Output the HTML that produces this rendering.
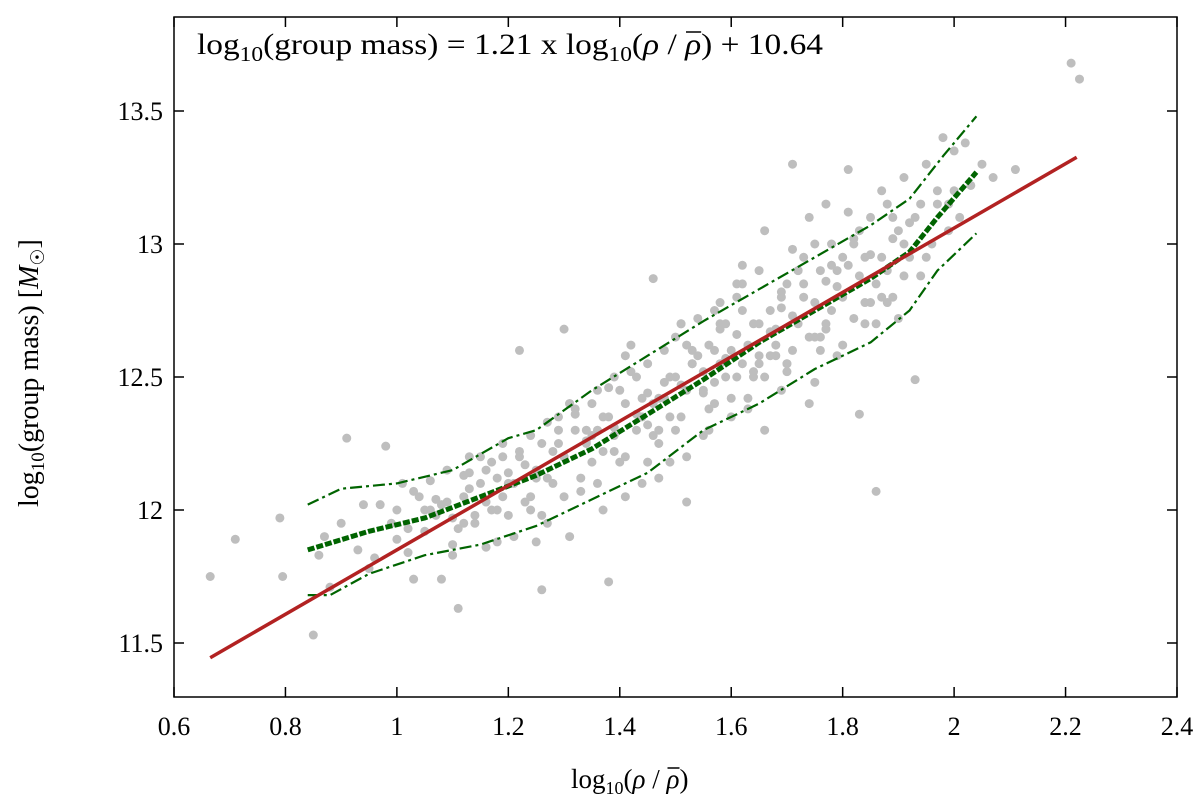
<!DOCTYPE html>
<html><head><meta charset="utf-8">
<style>
html,body{margin:0;padding:0;background:#fff;}
svg{display:block;}
.tick{font-family:"Liberation Serif",serif;font-size:26px;fill:#000;}
</style></head>
<body>
<svg id="chart" width="1200" height="808" xmlns="http://www.w3.org/2000/svg">
<g id="points"></g>
<g id="lines"></g>
<rect x="174" y="17" width="1003" height="680" fill="none" stroke="#000" stroke-width="1.5"/>
<g id="ticks"></g>
<text id="ftitle" x="197" y="54" font-family="Liberation Serif,serif" font-size="30" textLength="626" lengthAdjust="spacingAndGlyphs">log<tspan font-size="21" dy="7">10</tspan><tspan dy="-7">(group mass) = 1.21 x log</tspan><tspan font-size="21" dy="7">10</tspan><tspan dy="-7">(</tspan><tspan font-style="italic">ρ</tspan> / <tspan id="rb1" font-style="italic">ρ</tspan>) + 10.64</text>
<line id="bar1" x1="0" y1="25" x2="0" y2="25" stroke="#000" stroke-width="1.5"/>
<text x="571" y="788" font-family="Liberation Serif,serif" font-size="27">log<tspan font-size="18" dy="6">10</tspan><tspan dy="-6">(</tspan><tspan font-style="italic">ρ</tspan> / <tspan id="rb2" font-style="italic">ρ</tspan>)</text>
<line id="bar2" x1="0" y1="760" x2="0" y2="760" stroke="#000" stroke-width="1.5"/>
<text transform="translate(38,507) rotate(-90)" font-family="Liberation Serif,serif" font-size="28">log<tspan font-size="19" dy="6">10</tspan><tspan dy="-6">(group mass) [</tspan><tspan font-style="italic">M</tspan><tspan font-size="19" dy="6">☉</tspan><tspan dy="-6">]</tspan></text>
</svg>
<script>
const xTicks=[0.6,0.8,1,1.2,1.4,1.6,1.8,2,2.2,2.4];
const yTicks=[11.5,12,12.5,13,13.5];
const fitSlope=1.21, fitIntercept=10.64, fitX=[0.665,2.22];
const medX=[0.84,0.95,1.05,1.15,1.25,1.35,1.45,1.55,1.65,1.75,1.85,1.92,1.97,2.04];
const medY=[11.85,11.92,11.97,12.05,12.13,12.23,12.36,12.49,12.63,12.75,12.87,12.97,13.1,13.27];
const upX=[0.84,0.9,1.0,1.1,1.2,1.25,1.35,1.45,1.55,1.65,1.75,1.85,1.92,1.98,2.04];
const upY=[12.02,12.08,12.1,12.15,12.27,12.3,12.45,12.58,12.71,12.83,12.95,13.07,13.17,13.33,13.48];
const loX=[0.84,0.88,0.95,1.05,1.15,1.25,1.35,1.45,1.55,1.65,1.75,1.85,1.92,1.97,2.04];
const loY=[11.68,11.68,11.76,11.83,11.87,11.94,12.04,12.14,12.3,12.4,12.53,12.63,12.75,12.9,13.04];
const ptX=[0.665,0.71,0.79,0.795,0.85,0.86,0.87,0.88,0.9,0.91,0.93,0.95,0.97,0.98,0.99,1.0,1.01,1.02,1.03,1.04,1.05,1.06,1.07,1.08,1.09,1.1,1.11,1.12,1.13,1.14,1.15,1.16,1.17,1.18,1.19,1.2,1.21,1.22,1.22,1.23,1.24,1.25,1.26,1.26,1.27,1.28,1.29,1.3,1.3,1.31,1.32,1.33,1.34,1.35,1.36,1.37,1.38,1.38,1.39,1.4,1.41,1.42,1.43,1.44,1.45,1.46,1.46,1.47,1.48,1.49,1.5,1.5,1.51,1.52,1.53,1.54,1.55,1.55,1.56,1.57,1.58,1.59,1.6,1.6,1.61,1.62,1.63,1.64,1.65,1.65,1.66,1.67,1.68,1.69,1.7,1.7,1.71,1.72,1.73,1.74,1.75,1.75,1.76,1.77,1.78,1.79,1.8,1.8,1.81,1.82,1.82,1.83,1.84,1.85,1.86,1.86,1.87,1.88,1.89,1.9,1.91,1.92,1.93,1.94,1.95,1.96,1.97,1.98,1.99,2.0,2.01,2.02,2.03,2.05,2.07,2.11,2.21,2.225,1.44,1.48,1.52,1.58,1.63,1.68,1.72,1.77,1.53,1.57,1.62,1.66,1.71,1.74,1.36,1.33,1.27,1.18,1.12,1.09,1.41,1.47,1.56,1.61,1.69,1.73,1.78,1.83,1.88,1.95,1.52,1.43,1.35,1.24,1.15,1.06,0.96,1.39,1.51,1.64,1.76,1.84,1.91,1.99,1.58,1.45,1.31,1.2,1.62,1.7,
1.02,1.05,1.08,1.1,1.13,1.16,1.18,1.21,1.23,1.25,1.28,1.3,1.32,1.34,1.37,1.39,1.41,1.43,1.45,1.47,1.49,1.51,1.53,1.55,1.57,1.59,1.61,1.63,1.65,1.67,1.69,1.71,1.73,1.75,1.77,1.79,1.81,1.83,1.85,1.87,1.89,1.91,1.93,1.12,1.17,1.22,1.27,1.32,1.37,1.42,1.47,1.52,1.57,1.62,1.67,1.72,1.77,1.82,1.87,1.92,1.14,1.19,1.24,1.29,1.34,1.39,1.44,1.49,1.54,1.59,1.64,1.69,1.74,1.79,1.84,1.89,1.94,1.11,1.16,1.26,1.31,1.36,1.41,1.46,1.51,1.56,1.61,1.66,1.71,1.76,1.81,1.86,1.97,2.0,1.9,1.8,1.7,1.6,1.5,1.4,1.3,1.2,1.1,1.0,0.94,1.25,1.35,1.45,1.55,1.65,1.75,1.85,1.03,1.07,1.13,1.19,1.29,1.38,1.48,1.58,1.68,1.78,1.88];
const ptY=[11.75,11.89,11.97,11.75,11.53,11.83,11.9,11.71,11.95,12.27,11.85,11.78,12.02,12.24,11.95,11.89,12.1,11.84,11.74,12.05,11.92,12.11,11.98,11.74,12.03,11.87,11.63,12.05,12.2,11.95,12.1,11.86,12.18,12.0,12.05,12.14,11.9,12.6,12.2,12.03,12.28,12.15,11.7,11.98,12.33,12.1,12.3,12.68,12.2,11.9,12.38,12.07,12.25,12.18,12.45,12.0,11.73,12.35,12.28,12.45,12.2,12.62,12.3,12.1,12.55,12.87,12.4,12.25,12.6,12.18,12.5,12.65,12.35,12.03,12.55,12.72,12.45,12.28,12.62,12.4,12.78,12.5,12.6,12.35,12.8,12.55,12.42,12.7,12.9,12.58,12.3,12.75,12.62,12.45,12.85,12.55,13.3,12.7,12.85,12.4,13.0,12.65,12.9,13.15,12.75,12.58,12.95,12.8,13.28,13.0,12.72,12.36,12.95,13.1,12.85,12.07,13.2,12.9,12.8,13.05,13.25,12.95,12.49,13.15,13.3,13.0,13.2,13.4,13.05,13.35,13.1,13.38,13.22,13.3,13.25,13.28,13.68,13.62,12.35,12.48,12.2,12.55,12.38,12.68,12.9,12.7,12.6,12.75,12.92,13.05,12.6,13.1,12.3,12.12,11.95,11.88,11.95,12.15,12.05,12.12,12.3,12.5,12.8,12.95,13.0,13.05,13.15,12.95,12.45,12.5,12.4,12.0,12.2,12.0,11.82,12.22,12.7,12.5,12.65,12.7,12.88,13.15,12.7,12.32,12.4,12.1,12.85,12.55,
11.93,12.0,12.02,11.97,12.08,12.03,12.12,12.1,12.17,12.12,12.22,12.2,12.3,12.26,12.35,12.31,12.4,12.36,12.44,12.42,12.5,12.47,12.55,12.52,12.6,12.57,12.66,12.62,12.7,12.67,12.76,12.73,12.8,12.78,12.86,12.84,12.92,12.88,12.96,12.95,13.02,13.0,13.1,12.13,12.0,12.22,12.12,12.36,12.22,12.52,12.3,12.62,12.48,12.75,12.58,12.9,12.68,13.02,12.8,13.08,11.98,12.2,12.05,12.25,12.3,12.5,12.42,12.35,12.58,12.7,12.52,12.82,12.65,12.9,12.78,13.1,12.88,11.93,12.15,12.25,12.4,12.1,12.58,12.28,12.7,12.38,12.85,12.5,12.98,12.6,13.12,12.7,13.15,13.2,12.72,12.62,12.52,12.42,12.3,12.18,12.05,11.98,11.83,12.0,12.02,11.88,12.28,12.18,12.44,12.55,12.48,12.78,12.07,12.04,12.14,12.25,12.35,12.46,12.42,12.68,12.58,12.92,12.78];
const X0=174,X1=1177,Y0=17,Y1=697;
const sx=v=>X0+(v-0.6)/(2.4-0.6)*(X1-X0);
const sy=v=>643-(v-11.5)*266;
const NS="http://www.w3.org/2000/svg";
const pts=document.getElementById('points');
ptX.forEach((x,i)=>{const c=document.createElementNS(NS,'circle');
c.setAttribute('cx',sx(x));c.setAttribute('cy',sy(ptY[i]));c.setAttribute('r',4.5);c.setAttribute('fill','#bebebe');


pts.appendChild(c);});
const lines=document.getElementById('lines');
function poly(xs,ys,stroke,w,dash,name){const p=document.createElementNS(NS,'polyline');
p.setAttribute('points',xs.map((x,i)=>sx(x)+','+sy(ys[i])).join(' '));
p.setAttribute('fill','none');p.setAttribute('stroke',stroke);p.setAttribute('stroke-width',w);
if(dash)p.setAttribute('stroke-dasharray',dash);


lines.appendChild(p);}
poly(upX,upY,'#006400',2.2,'12,4,3,4','upper-percentile-line');
poly(loX,loY,'#006400',2.2,'12,4,3,4','lower-percentile-line');
poly(medX,medY,'#006400',5,'7,2','median-line');
poly(fitX,fitX.map(x=>fitSlope*x+fitIntercept),'#b22222',3.5,null,'fit-line');
const tk=document.getElementById('ticks');
xTicks.forEach(v=>{const x=sx(v);
const l=document.createElementNS(NS,'path');l.setAttribute('d',`M${x},${Y1}v-10M${x},${Y0}v10`);l.setAttribute('stroke','#000');l.setAttribute('stroke-width',1.5);


tk.appendChild(l);
const t=document.createElementNS(NS,'text');t.setAttribute('x',x);t.setAttribute('y',735);t.setAttribute('text-anchor','middle');t.setAttribute('class','tick');t.textContent=String(v);


tk.appendChild(t);});
yTicks.forEach(v=>{const y=sy(v);
const l=document.createElementNS(NS,'path');l.setAttribute('d',`M${X0},${y}h10M${X1},${y}h-10`);l.setAttribute('stroke','#000');l.setAttribute('stroke-width',1.5);


tk.appendChild(l);
const t=document.createElementNS(NS,'text');t.setAttribute('x',163);t.setAttribute('y',y+9);t.setAttribute('text-anchor','end');t.setAttribute('class','tick');t.textContent=String(v);


tk.appendChild(t);});
function placeBar(spanId,barId,yOff){const s=document.getElementById(spanId);const b=document.getElementById(barId);
try{const bb=s.getBBox();b.setAttribute('x1',bb.x+2);b.setAttribute('x2',bb.x+bb.width);b.setAttribute('y1',bb.y+yOff);b.setAttribute('y2',bb.y+yOff);}catch(e){}}
placeBar('rb1','bar1',4);
placeBar('rb2','bar2',4);
</script>
</body></html>
